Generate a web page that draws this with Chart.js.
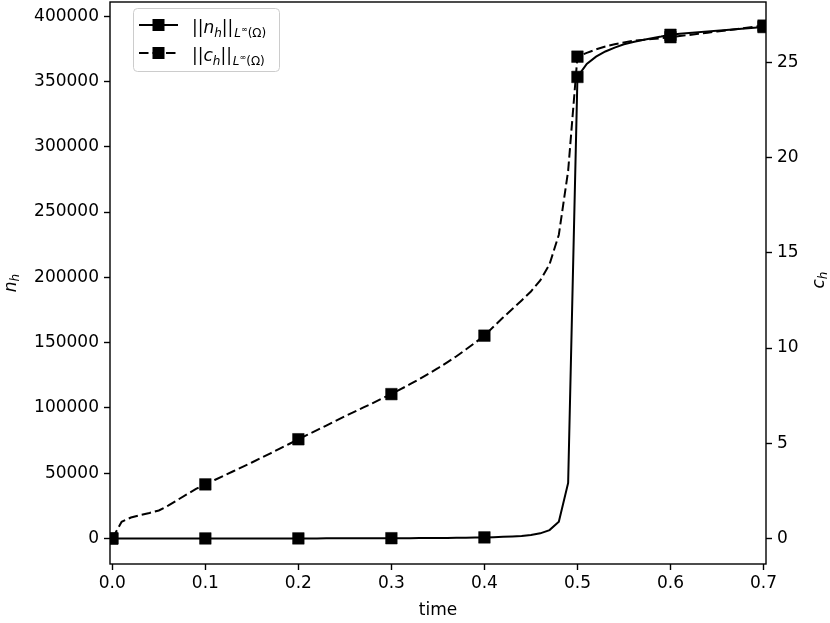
<!DOCTYPE html>
<html>
<head>
<meta charset="utf-8">
<script src="https://cdn.jsdelivr.net/npm/chart.js@4.4.1/dist/chart.umd.min.js"></script>
<style>
    body { margin: 0; background: #fff; }
    #wrap { width: 830px; height: 623px; position: relative; }
</style>
</head>
<body>
<div id="wrap"><canvas id="myChart"></canvas></div>
<script>
// time samples of the two norms
const times = [
    0.00, 0.01, 0.02, 0.03, 0.04, 0.05, 0.06, 0.07, 0.08, 0.09,
    0.10, 0.11, 0.12, 0.13, 0.14, 0.15, 0.16, 0.17, 0.18, 0.19,
    0.20, 0.21, 0.22, 0.23, 0.24, 0.25, 0.26, 0.27, 0.28, 0.29,
    0.30, 0.31, 0.32, 0.33, 0.34, 0.35, 0.36, 0.37, 0.38, 0.39,
    0.40, 0.41, 0.42, 0.43, 0.44, 0.45, 0.46, 0.47, 0.48, 0.49,
    0.50, 0.51, 0.52, 0.53, 0.54, 0.55, 0.56, 0.57, 0.58, 0.59,
    0.60, 0.61, 0.62, 0.63, 0.64, 0.65, 0.66, 0.67, 0.68, 0.69,
    0.70
];

// ||n_h|| (left axis)
const nNorm = [
    0, 0, 0, 0, 0, 0, 0, 0, 0, 0,
    0, 0, 0, 0, 0, 0, 10, 10, 20, 20,
    30, 40, 50, 60, 70, 80, 100, 110, 130, 150,
    170, 200, 230, 260, 300, 350, 410, 480, 570, 680,
    800, 1000, 1250, 1550, 1850, 2700, 3900, 6400, 12800, 42500,
    353500, 363500, 369000, 373000, 376000, 378500, 380300, 381800, 383200, 384400,
    385800, 386500, 387200, 387800, 388400, 388900, 389500, 390000, 390600, 391100,
    391700
];

// ||c_h|| (right axis)
const cNorm = [
    0, 0.88, 1.10, 1.23, 1.34, 1.47, 1.72, 2.02, 2.32, 2.60,
    2.84, 3.07, 3.30, 3.53, 3.76, 3.99, 4.23, 4.47, 4.72, 4.96,
    5.21, 5.45, 5.69, 5.93, 6.17, 6.42, 6.65, 6.88, 7.11, 7.35,
    7.58, 7.84, 8.10, 8.37, 8.65, 8.94, 9.25, 9.57, 9.92, 10.28,
    10.65, 11.13, 11.60, 12.05, 12.50, 12.97, 13.55, 14.40, 15.95, 19.30,
    25.30, 25.50, 25.68, 25.83, 25.95, 26.05, 26.13, 26.18, 26.23, 26.27,
    26.32, 26.38, 26.44, 26.50, 26.56, 26.62, 26.68, 26.74, 26.80, 26.87,
    26.93
];

// times that carry a square marker
const markTimes = [0.0, 0.1, 0.2, 0.3, 0.4, 0.5, 0.6, 0.7];

const xTicks = [0.0, 0.1, 0.2, 0.3, 0.4, 0.5, 0.6, 0.7];
const nTicks = [0, 50000, 100000, 150000, 200000, 250000, 300000, 350000, 400000];
const cTicks = [0, 5, 10, 15, 20, 25];

const FONT = "'DejaVu Sans'";
const dashStyle = [9.5, 4];

function toPoints(values) {
    return times.map((t, i) => ({ x: t, y: values[i] }));
}

function markerRadius(ctx) {
    const t = times[ctx.dataIndex];
    return markTimes.some(m => Math.abs(m - t) < 1e-9) ? 8.2 : 0;
}

// draws a run of text pieces (upright / italic / sub / sup) one after another
function drawMath(ctx, x, y, parts) {
    parts.forEach(p => {
        ctx.font = (p.it ? 'italic ' : '') + p.size + 'px ' + FONT;
        ctx.fillText(p.t, x, y + (p.dy || 0));
        x += ctx.measureText(p.t).width + (p.gap || 0);
    });
    return x;
}

function mathWidth(ctx, parts) {
    let w = 0;
    parts.forEach(p => {
        ctx.font = (p.it ? 'italic ' : '') + p.size + 'px ' + FONT;
        w += ctx.measureText(p.t).width + (p.gap || 0);
    });
    return w;
}

function normParts(letter) {
    return [
        { t: '||', size: 17 },
        { t: letter, it: true, size: 17 },
        { t: 'h', it: true, size: 12, dy: 3.5 },
        { t: '||', size: 17, gap: 1 },
        { t: 'L', it: true, size: 12, dy: 4 },
        { t: '\u221E', size: 8, dy: -1 },
        { t: '(\u03A9)', size: 12, dy: 4 }
    ];
}

function drawSquare(ctx, x, y) {
    ctx.fillStyle = '#000';
    ctx.fillRect(x - 6, y - 6, 12, 12);
}

const framePlugin = {
    id: 'frameAndLegend',
    afterDatasetsDraw(chart) {
        const ctx = chart.ctx;
        const a = chart.chartArea;
        ctx.save();

        // axes frame
        ctx.strokeStyle = '#000';
        ctx.lineWidth = 1.4;
        ctx.setLineDash([]);
        ctx.strokeRect(a.left, a.top, a.right - a.left, a.bottom - a.top);

        // legend box
        const bx = 133.5, by = 8.5, bw = 146, bh = 63, r = 4;
        ctx.beginPath();
        ctx.moveTo(bx + r, by);
        ctx.arcTo(bx + bw, by, bx + bw, by + bh, r);
        ctx.arcTo(bx + bw, by + bh, bx, by + bh, r);
        ctx.arcTo(bx, by + bh, bx, by, r);
        ctx.arcTo(bx, by, bx + bw, by, r);
        ctx.closePath();
        ctx.fillStyle = 'rgba(255,255,255,0.8)';
        ctx.fill();
        ctx.strokeStyle = '#cccccc';
        ctx.lineWidth = 1;
        ctx.stroke();

        const rows = [
            { y: 25, dash: [], letter: 'n' },
            { y: 53, dash: dashStyle, letter: 'c' }
        ];
        rows.forEach(row => {
            ctx.strokeStyle = '#000';
            ctx.lineWidth = 2;
            ctx.setLineDash(row.dash);
            ctx.beginPath();
            ctx.moveTo(139, row.y);
            ctx.lineTo(178, row.y);
            ctx.stroke();
            ctx.setLineDash([]);
            drawSquare(ctx, 158.5, row.y);
            ctx.fillStyle = '#000';
            ctx.textBaseline = 'alphabetic';
            ctx.textAlign = 'left';
            drawMath(ctx, 192, row.y + 8, normParts(row.letter));
        });

        // axis titles
        ctx.fillStyle = '#000';
        ctx.textBaseline = 'alphabetic';
        ctx.textAlign = 'left';
        ctx.font = '17px ' + FONT;
        const tw = ctx.measureText('time').width;
        ctx.fillText('time', (a.left + a.right) / 2 - tw / 2, 615);

        const nh = [{ t: 'n', it: true, size: 17 }, { t: 'h', it: true, size: 12, dy: 3.5 }];
        const ch = [{ t: 'c', it: true, size: 17 }, { t: 'h', it: true, size: 12, dy: 3.5 }];
        const midY = (a.top + a.bottom) / 2;

        ctx.save();
        ctx.translate(15.5, midY);
        ctx.rotate(-Math.PI / 2);
        drawMath(ctx, -mathWidth(ctx, nh) / 2, 0, nh);
        ctx.restore();

        ctx.save();
        ctx.translate(823.5, midY - 3);
        ctx.rotate(-Math.PI / 2);
        drawMath(ctx, -mathWidth(ctx, ch) / 2, 0, ch);
        ctx.restore();

        ctx.restore();
    }
};

function tickSetter(list) {
    return function (scale) {
        scale.ticks = list.map(v => ({ value: v }));
    };
}

function fitY(width) {
    return function (scale) {
        scale.width = width;
        scale.paddingTop = 0;
        scale.paddingBottom = 0;
    };
}

const tickFont = { family: FONT, size: 17 };
const tickGrid = {
    drawOnChartArea: false,
    drawTicks: true,
    tickLength: 6,
    tickWidth: 1.4,
    color: '#000'
};

const ctx = document.getElementById('myChart').getContext('2d');
const myChart = new Chart(ctx, {
    type: 'line',
    data: {
        datasets: [{
                label: '||n_h||',
                data: toPoints(nNorm),
                yAxisID: 'y',
                borderColor: '#000',
                backgroundColor: '#000',
                borderWidth: 2,
                pointStyle: 'rect',
                pointRadius: markerRadius,
                pointBorderWidth: 0.5,
                pointHoverRadius: 0,
                tension: 0,
                fill: false
            }, {
                label: '||c_h||',
                data: toPoints(cNorm),
                yAxisID: 'y1',
                borderColor: '#000',
                backgroundColor: '#000',
                borderWidth: 2,
                borderDash: dashStyle,
                pointStyle: 'rect',
                pointRadius: markerRadius,
                pointBorderWidth: 0.5,
                pointHoverRadius: 0,
                tension: 0,
                fill: false
            }]
    },
    options: {
        responsive: true,
        maintainAspectRatio: false,
        animation: false,
        events: [],
        layout: {
            autoPadding: false,
            padding: { top: 2, left: 0, right: 0, bottom: 0 }
        },
        plugins: {
            legend: { display: false },
            tooltip: { enabled: false }
        },
        scales: {
            x: {
                type: 'linear',
                min: -0.0025,
                max: 0.7027,
                afterBuildTicks: tickSetter(xTicks),
                afterFit: function (scale) {
                    scale.height = 59;
                    scale.paddingLeft = 0;
                    scale.paddingRight = 0;
                },
                border: { display: false },
                grid: tickGrid,
                ticks: {
                    font: tickFont,
                    color: '#000',
                    padding: 3,
                    maxRotation: 0,
                    callback: v => v.toFixed(1)
                }
            },
            y: {
                type: 'linear',
                position: 'left',
                min: -19570,
                max: 410900,
                afterBuildTicks: tickSetter(nTicks),
                afterFit: fitY(110),
                border: { display: false },
                grid: tickGrid,
                ticks: {
                    font: tickFont,
                    color: '#000',
                    padding: 5,
                    callback: v => String(v)
                }
            },
            y1: {
                type: 'linear',
                position: 'right',
                min: -1.34,
                max: 28.17,
                afterBuildTicks: tickSetter(cTicks),
                afterFit: fitY(64),
                border: { display: false },
                grid: tickGrid,
                ticks: {
                    font: tickFont,
                    color: '#000',
                    padding: 5,
                    callback: v => String(v)
                }
            }
        }
    },
    plugins: [framePlugin]
});
</script>
</body>
</html>
